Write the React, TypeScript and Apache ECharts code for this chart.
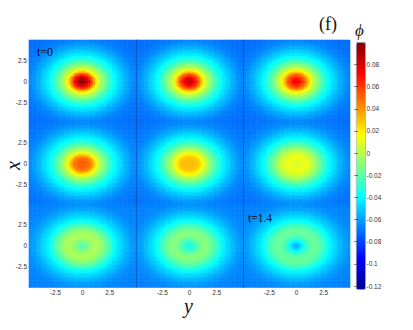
import React, { useEffect, useRef } from "react";
import * as echarts from "echarts";

const radii = [0,.125,.25,.375,.5,.625,.75,.875,1,1.125,1.25,1.375,1.5,1.625,1.75,1.875,2,2.125,2.25,2.375,2.5,2.625,2.75,2.875,3,3.25,3.5,3.75,4,4.25,4.5,4.75,5,5.25,5.5,5.75,6,6.25,6.5,6.75,7];
// Outer part of each row's readings (3.25 and beyond).
const outerTop = [-.044,-.048,-.052,-.056,-.059,-.062,-.065,-.067,-.068,-.069,-.07,-.07,-.071,-.071,-.072,-.072];
const outerMid = [-.043,-.047,-.051,-.055,-.058,-.061,-.064,-.066,-.067,-.068,-.069,-.069,-.07,-.07,-.071,-.071];
const outerLow = [-.043,-.047,-.05,-.054,-.057,-.06,-.062,-.064,-.065,-.066,-.066,-.067,-.067,-.067,-.068,-.068];
// Inner part of each panel's readings (0 to 3).
const panel1 = [.098,.097,.094,.089,.082,.075,.066,.056,.046,.035,.024,.016,.008,.003,-.003,-.006,-.01,-.0145,-.019,-.023,-.026,-.03,-.033,-.036,-.039];
const panel2 = [.086,.085,.082,.078,.072,.066,.059,.051,.042,.032,.023,.015,.008,.002,-.003,-.006,-.01,-.0145,-.019,-.023,-.026,-.03,-.033,-.036,-.039];
const panel3 = [.076,.075,.073,.069,.064,.059,.053,.046,.038,.029,.021,.014,.008,.002,-.003,-.006,-.01,-.0145,-.019,-.023,-.026,-.03,-.033,-.036,-.039];
const panel4 = [.052,.052,.052,.051,.05,.048,.045,.041,.035,.028,.02,.013,.007,.001,-.003,-.007,-.011,-.015,-.019,-.023,-.026,-.03,-.033,-.036,-.039];
const panel5 = [.031,.031,.032,.032,.031,.03,.029,.027,.024,.021,.016,.011,.006,.001,-.003,-.007,-.011,-.015,-.019,-.022,-.026,-.029,-.032,-.035,-.038];
const panel6 = [.006,.007,.008,.01,.011,.012,.012,.012,.011,.01,.008,.005,.002,-.001,-.004,-.008,-.011,-.015,-.018,-.022,-.025,-.028,-.032,-.035,-.038];
const panel7 = [-.02,-.02,-.019,-.017,-.014,-.011,-.008,-.006,-.004,-.003,-.002,-.002,-.003,-.005,-.007,-.009,-.012,-.015,-.018,-.021,-.024,-.027,-.031,-.035,-.038];
const panel8 = [-.034,-.034,-.033,-.031,-.028,-.025,-.021,-.018,-.015,-.013,-.011,-.01,-.01,-.011,-.012,-.014,-.016,-.018,-.021,-.023,-.026,-.029,-.032,-.035,-.038];
const panel9 = [-.056,-.055,-.052,-.048,-.044,-.039,-.034,-.03,-.026,-.023,-.021,-.019,-.018,-.017,-.017,-.017,-.018,-.02,-.022,-.024,-.026,-.029,-.032,-.035,-.038];
const panels = [
  [...panel1, ...outerTop], [...panel2, ...outerTop], [...panel3, ...outerTop],
  [...panel4, ...outerMid], [...panel5, ...outerMid], [...panel6, ...outerMid],
  [...panel7, ...outerLow], [...panel8, ...outerLow], [...panel9, ...outerLow],
];

const tickLabels = ["-2.5", "0", "2.5"];
const jet = ["#00008f","#0000ff","#0080ff","#00ffff","#80ff80","#ffff00","#ff8000","#ff0000","#800000"];
const colorMin = -0.1227;
const colorMax = 0.1;

const gridLeft = [29, 136, 243];
const gridTop = [40, 122.5, 204.5];
const SERIF = "'Liberation Serif', serif";
const SANS = "'Liberation Sans', sans-serif";
const edge = "rgba(10,60,130,0.45)";

// Cell positions of the heatmap: 63 cells across each panel, -2.5, 0 and 2.5 among them.
const coords = Array.from({ length: 63 }, (_, i) => ((i - 31) * 2.5) / 16);

function nearestRing(r: number) {
  let best = 0;
  radii.forEach((v, i) => {
    if (Math.abs(v - r) < Math.abs(radii[best] - r)) best = i;
  });
  return best;
}

function cellsFor(rings: number[]) {
  const out: number[][] = [];
  coords.forEach((y, i) =>
    coords.forEach((x, j) => {
      out.push([i, j, rings[nearestRing(Math.sqrt(x * x + y * y))]]);
    })
  );
  return out;
}

export default function App() {
  const ref = useRef<HTMLDivElement>(null);
  useEffect(() => {
    const chart = echarts.init(ref.current!, null, { renderer: "svg" });
    const names = coords.map(String);
    const showTick = (_: number, v: string) => tickLabels.includes(v);
    const grids: any[] = [];
    const xAxes: any[] = [];
    const yAxes: any[] = [];
    const series: any[] = [];
    panels.forEach((rings, p) => {
      const col = p % 3;
      const row = Math.floor(p / 3);
      grids.push({ left: gridLeft[col], top: gridTop[row], width: 107, height: 82.5 });
      xAxes.push({
        type: "category", gridIndex: p, data: names,
        axisLine: { show: row === 2, lineStyle: { color: edge, width: 1 } },
        axisTick: { show: false },
        axisLabel: { show: row === 2, interval: showTick, fontFamily: SANS, fontSize: 6.5, color: "#333", margin: 2 },
        splitLine: { show: false }, z: 5,
      });
      yAxes.push({
        type: "category", gridIndex: p, data: names,
        axisLine: { show: col > 0, lineStyle: { color: edge, width: 1 } },
        axisTick: { show: false },
        axisLabel: { show: col === 0, interval: showTick, fontFamily: SANS, fontSize: 6.5, color: "#333", margin: 2 },
        splitLine: { show: false }, z: 5,
      });
      series.push({
        type: "heatmap", xAxisIndex: p, yAxisIndex: p, data: cellsFor(rings),
        silent: true, progressive: 0, itemStyle: { borderWidth: 0 },
        emphasis: { disabled: true },
      });
    });
    // colour-bar tick axes
    grids.push({ left: 356, top: 64.5, width: 9, height: 221.5 });
    xAxes.push({ type: "value", gridIndex: 9, show: false });
    const barAxis = {
      type: "value", gridIndex: 9, min: -0.12, max: 0.08, interval: 0.02,
      axisLine: { show: false }, splitLine: { show: false },
    };
    yAxes.push({
      ...barAxis, position: "right",
      axisTick: { show: true, inside: true, length: 2, lineStyle: { color: "#333", width: 0.6 } },
      axisLabel: {
        fontFamily: SANS, fontSize: 6.5, color: "#333", margin: 1.5,
        formatter: (v: number) => String(Number(v.toFixed(2))),
      },
      z: 8,
    });
    yAxes.push({
      ...barAxis, position: "left",
      axisTick: { show: true, inside: true, length: 2, lineStyle: { color: "#333", width: 0.6 } },
      axisLabel: { show: false }, z: 8,
    });
    chart.setOption({
      animation: false,
      backgroundColor: "#fff",
      tooltip: { show: false },
      grid: grids,
      xAxis: xAxes,
      yAxis: yAxes,
      visualMap: {
        type: "continuous", min: colorMin, max: colorMax, show: true,
        seriesIndex: panels.map((_, i) => i),
        inRange: { color: jet },
        left: 356, top: 42, itemWidth: 9, itemHeight: 247, padding: 0,
        calculable: false, hoverLink: false, realtime: false, text: null,
        borderColor: "#8a93a8", borderWidth: 0.8, showLabel: false,
        textStyle: { fontSize: 1, color: "rgba(0,0,0,0)" }, z: 6,
      },
      series,
      graphic: [
        { type: "text", left: 37, top: 46, z: 20, style: { text: "t=0", font: `12px ${SERIF}`, fill: "#111" } },
        { type: "text", left: 248, top: 212, z: 20, style: { text: "t=1.4", font: `11.5px ${SERIF}`, fill: "#111" } },
        { type: "text", left: 319, top: 15, z: 20, style: { text: "(f)", font: `18px ${SERIF}`, fill: "#111" } },
        { type: "text", left: 355, top: 22, z: 20, style: { text: "ϕ", font: `italic 17px ${SERIF}`, fill: "#111" } },
        { type: "text", x: 3, y: 170, rotation: Math.PI / 2, z: 20, style: { text: "x", font: `italic 20px ${SERIF}`, fill: "#111" } },
        { type: "text", left: 184, top: 296, z: 20, style: { text: "y", font: `italic 20px ${SERIF}`, lineHeight: 13, fill: "#111" } },
      ],
    });
    return () => chart.dispose();
  }, []);
  return <div ref={ref} style={{ position: "absolute", left: 0, top: 0, width: 413, height: 330 }} />;
}
